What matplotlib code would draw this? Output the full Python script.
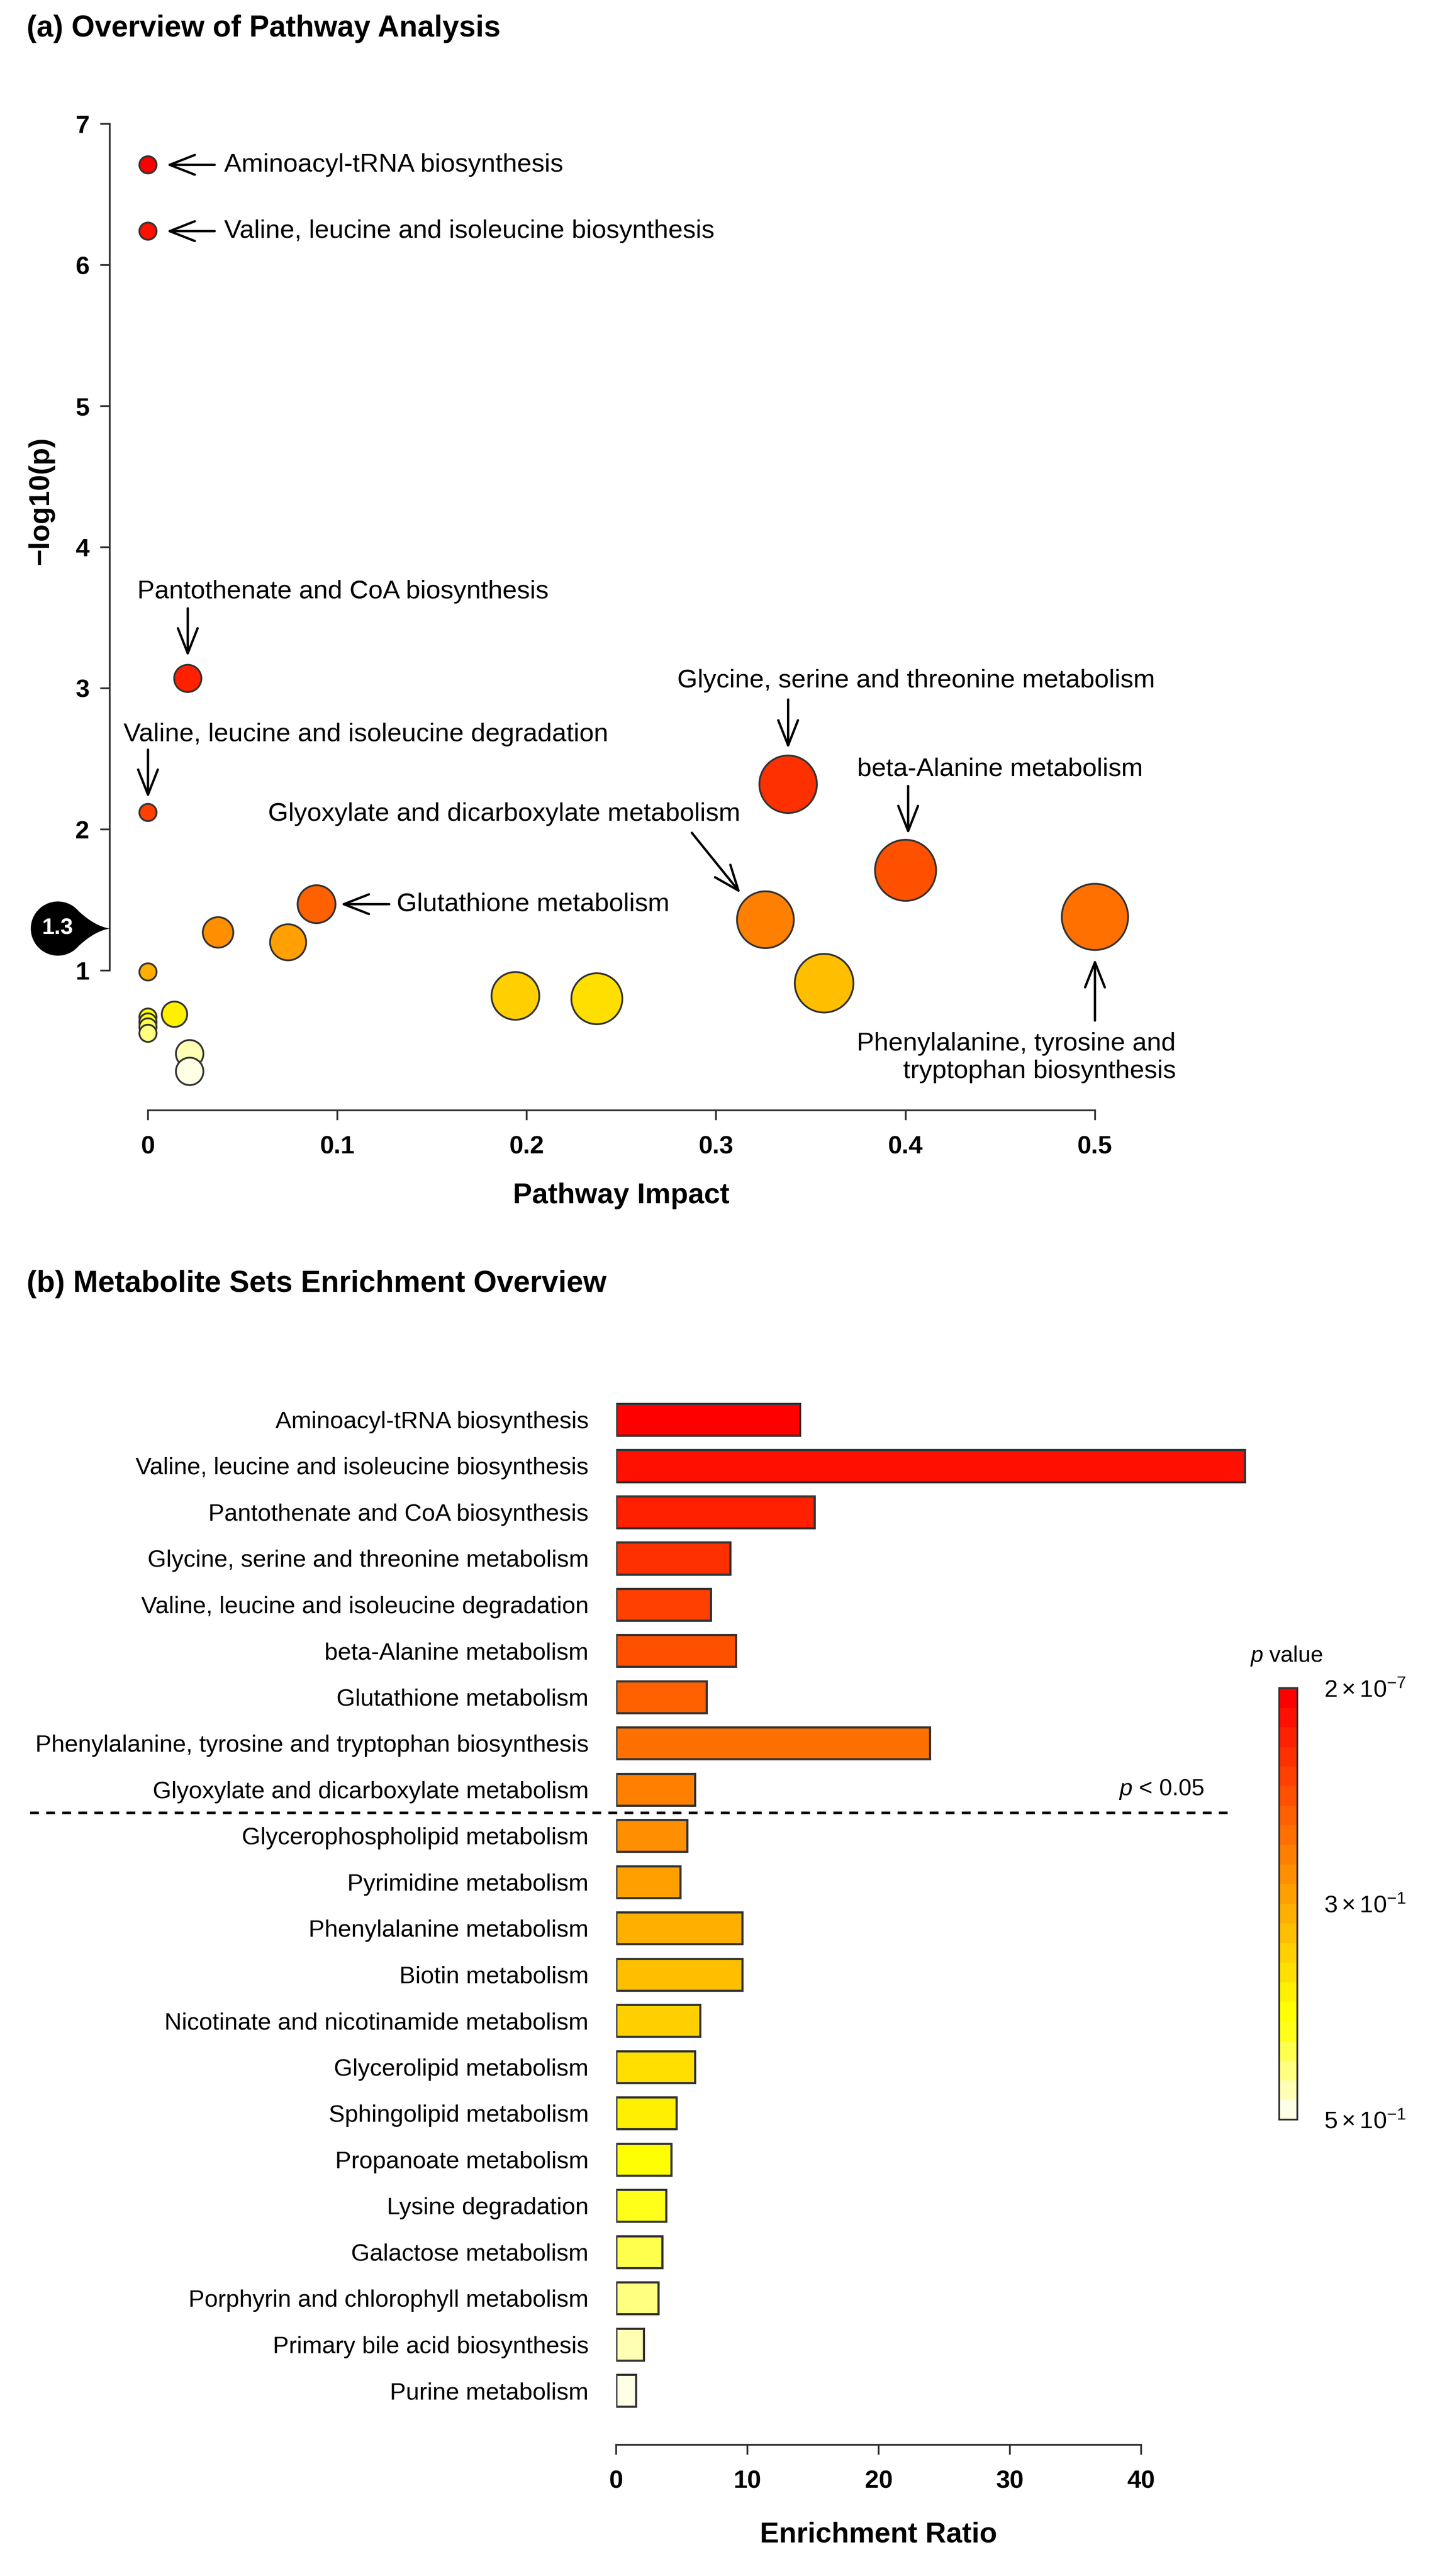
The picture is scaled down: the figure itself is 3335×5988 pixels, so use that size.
import colorsys
import numpy as np
import matplotlib
matplotlib.use("Agg")
import matplotlib.pyplot as plt
from matplotlib.path import Path
from matplotlib.markers import MarkerStyle
from matplotlib.colors import ListedColormap, Normalize
from matplotlib.cm import ScalarMappable
from matplotlib import transforms

plt.rcParams['font.family'] = ['Liberation Sans', 'DejaVu Sans']
plt.rcParams['mathtext.fontset'] = 'custom'
plt.rcParams['mathtext.rm'] = 'Liberation Sans'
plt.rcParams['mathtext.it'] = 'Liberation Sans:italic'

# (a) pathway analysis, ordered by p value (smallest first)
impact = [0.0, 0.0, 0.021, 0.338, 0.0, 0.400, 0.089, 0.500, 0.326, 0.037, 0.074,
          0.0, 0.357, 0.194, 0.237, 0.014, 0.0, 0.0, 0.0, 0.0, 0.022, 0.022]
neg_log_p = [6.71, 6.24, 3.07, 2.32, 2.12, 1.71, 1.47, 1.38, 1.36, 1.27, 1.20,
             0.99, 0.91, 0.82, 0.80, 0.69, 0.67, 0.635, 0.60, 0.555, 0.41, 0.285]
point_labels = {
    0: "Aminoacyl-tRNA biosynthesis",
    1: "Valine, leucine and isoleucine biosynthesis",
    2: "Pantothenate and CoA biosynthesis",
    3: "Glycine, serine and threonine metabolism",
    4: "Valine, leucine and isoleucine degradation",
    5: "beta-Alanine metabolism",
    6: "Glutathione metabolism",
    7: "Phenylalanine, tyrosine and\ntryptophan biosynthesis",
    8: "Glyoxylate and dicarboxylate metabolism",
}

# (b) enrichment overview, same order
metabolite_sets = [
    "Aminoacyl-tRNA biosynthesis",
    "Valine, leucine and isoleucine biosynthesis",
    "Pantothenate and CoA biosynthesis",
    "Glycine, serine and threonine metabolism",
    "Valine, leucine and isoleucine degradation",
    "beta-Alanine metabolism",
    "Glutathione metabolism",
    "Phenylalanine, tyrosine and tryptophan biosynthesis",
    "Glyoxylate and dicarboxylate metabolism",
    "Glycerophospholipid metabolism",
    "Pyrimidine metabolism",
    "Phenylalanine metabolism",
    "Biotin metabolism",
    "Nicotinate and nicotinamide metabolism",
    "Glycerolipid metabolism",
    "Sphingolipid metabolism",
    "Propanoate metabolism",
    "Lysine degradation",
    "Galactose metabolism",
    "Porphyrin and chlorophyll metabolism",
    "Primary bile acid biosynthesis",
    "Purine metabolism",
]
enrichment_ratio = [14.0, 47.9, 15.1, 8.7, 7.2, 9.1, 6.9, 23.9, 6.0, 5.4, 4.9,
                    9.6, 9.6, 6.4, 6.0, 4.6, 4.2, 3.8, 3.5, 3.2, 2.1, 1.5]
n_significant = 9
cbar_labels = [r'$5\times10^{-1}$', r'$3\times10^{-1}$', r'$2\times10^{-7}$']


def heat_colors(n):
    # same as R's heat.colors(n)
    j = n // 4
    i = n - j
    cols = [colorsys.hsv_to_rgb(h, 1, 1) for h in np.linspace(0, 1 / 6, i)]
    if j > 0:
        cols += [colorsys.hsv_to_rgb(1 / 6, s, 1)
                 for s in np.linspace(1 - 1 / (2 * j), 1 / (2 * j), j)]
    return cols


W, H, DPI = 3336, 5988, 300
PT = 72 / DPI  # points per pixel
fig = plt.figure(figsize=(W / DPI, H / DPI), dpi=DPI)
heat = heat_colors(len(neg_log_p))
edge = '#333333'

# ---------------- panel a ----------------
axa = fig.add_axes([255 / W, 1 - 2581 / H, (2800 - 255) / W, (2581 - 250) / H])
radius_px = 20 + 80.6 * np.sqrt(np.array(impact))
axa.scatter(impact, neg_log_p, s=(2 * radius_px * PT) ** 2, c=heat,
            edgecolors=edge, linewidths=1.0, zorder=3, clip_on=False)
axa.set_xlim(-0.0202, 0.558)
axa.set_ylim(0.009, 7.116)

for s in ['top', 'right']:
    axa.spines[s].set_visible(False)
for s in ['left', 'bottom']:
    axa.spines[s].set_color(edge)
    axa.spines[s].set_linewidth(1.0)
axa.spines['left'].set_bounds(1, 7)
axa.spines['bottom'].set_bounds(0, 0.5)
axa.set_xticks(np.arange(0, 0.51, 0.1), ['0', '0.1', '0.2', '0.3', '0.4', '0.5'])
axa.set_yticks(range(1, 8))
axa.tick_params(axis='x', length=5.5, width=1.0, color=edge, pad=8.6, labelsize=14)
axa.tick_params(axis='y', length=5.3, width=1.0, color=edge, pad=6, labelsize=14)
for lab in axa.get_xticklabels() + axa.get_yticklabels():
    lab.set_fontweight('bold')
axa.set_xlabel('Pathway Impact', fontsize=16, fontweight='bold', va='center')
axa.xaxis.set_label_coords((1444 - 255) / 2545, -199 / 2331)
axa.set_ylabel('\u2212log10(p)', fontsize=16, fontweight='bold', va='center')
axa.yaxis.set_label_coords(-160 / 2545, (2581 - 1164) / 2331)

# annotations: tip offset, tail offset, text offset (pixels), alignment
ann = {
    0: ((43, 0), (155, 0), (177, 0), 'left'),
    1: ((43, 0), (155, 0), (177, 0), 'left'),
    2: ((0, 51), (0, 163), (-117, 202), 'left'),
    3: ((0, 83), (0, 197), (-258, 241), 'left'),
    4: ((0, 34), (0, 146), (-57, 181), 'left'),
    5: ((6, 84), (6, 196), (-113, 235), 'left'),
    6: ((56, 0), (169, 0), (186, 0), 'left'),
    7: ((0, -98), (0, -241), (188, -327), 'right'),
    8: ((-58, 62), (-171, 202), (-58, 245), 'right'),
}
for i, label in point_labels.items():
    tip, tail, toff, ha = ann[i]
    x, y = impact[i], neg_log_p[i]
    axa.annotate('', xy=(x, y),
                 xycoords=transforms.offset_copy(axa.transData, fig=fig, x=tip[0] * PT,
                                                 y=tip[1] * PT, units='points'),
                 xytext=(x, y),
                 textcoords=transforms.offset_copy(axa.transData, fig=fig, x=tail[0] * PT,
                                                   y=tail[1] * PT, units='points'),
                 arrowprops=dict(arrowstyle='->,head_length=1.4,head_width=0.55',
                                 mutation_scale=10, lw=1.3, color='black',
                                 shrinkA=0, shrinkB=0))
    axa.annotate(label, xy=(x, y), xytext=(toff[0] * PT, toff[1] * PT),
                 textcoords='offset points', ha=ha, va='center', fontsize=14.5,
                 multialignment=ha)

# black "1.3" tear-drop on the y axis
ctr = -1.92
arc = Path.arc(40, 320)
verts = list(arc.vertices + [ctr, 0]) + [(-0.55, -0.08), (0, 0), (-0.55, 0.08),
                                         tuple(arc.vertices[0] + [ctr, 0]), (0, 0)]
codes = list(arc.codes) + [Path.CURVE3, Path.CURVE3, Path.CURVE3, Path.CURVE3,
                           Path.CLOSEPOLY]
drop = Path(np.array(verts), codes)
rescale = np.abs(drop.vertices).max()
r_pt = 63 * PT
blend = transforms.blended_transform_factory(axa.transAxes, axa.transData)
axa.plot([0], [1.3], transform=blend, marker=MarkerStyle(drop), ms=2 * rescale * r_pt,
         color='black', mew=0, clip_on=False, zorder=5)
axa.annotate('1.3', xy=(0, 1.3), xycoords=blend, xytext=(ctr * r_pt, 0),
             textcoords='offset points', ha='center', va='center', color='white',
             fontsize=12.5, fontweight='bold', zorder=6)

# ---------------- panel b ----------------
axb = fig.add_axes([1432 / W, 1 - 5683 / H, (2950 - 1432) / W, (5683 - 3200) / H])
ypos = np.arange(len(metabolite_sets))
axb.barh(ypos, enrichment_ratio, height=0.69, color=heat, edgecolor=edge, linewidth=1.2)
axb.set_yticks(ypos, metabolite_sets)
axb.tick_params(axis='y', length=0, pad=64 * PT, labelsize=13.4)
axb.set_xticks(range(0, 41, 10))
axb.tick_params(axis='x', length=5.5, width=1.0, color=edge, pad=8.6, labelsize=14)
for lab in axb.get_xticklabels():
    lab.set_fontweight('bold')
for s in ['top', 'right', 'left']:
    axb.spines[s].set_visible(False)
axb.spines['bottom'].set_color(edge)
axb.spines['bottom'].set_linewidth(1.0)
axb.spines['bottom'].set_bounds(0, 40)
axb.set_xlabel('Enrichment Ratio', fontsize=16, fontweight='bold', va='center')
axb.xaxis.set_label_coords((2042 - 1432) / (2950 - 1432), -209 / 2483)

# p < 0.05 cut line
cut = n_significant - 0.5
blend_b = transforms.blended_transform_factory(fig.transFigure, axb.transData)
axb.plot([70 / W, 2868 / W], [cut, cut], transform=blend_b, color='black', lw=1.4,
         ls=(0, (3.5, 2.9)), clip_on=False)
axb.text(2798 / W, n_significant - 1, r'$p$ < 0.05', transform=blend_b, ha='right',
         va='center', fontsize=13)
axb.set_xlim(0, 49.77)
axb.set_ylim(22.17, -0.93)

# colour key
cax = fig.add_axes([2973 / W, 1 - 4927 / H, 42 / W, (4927 - 3924) / H])
cb = fig.colorbar(ScalarMappable(norm=Normalize(0, 1), cmap=ListedColormap(heat[::-1])),
                  cax=cax, ticks=[0, 0.5, 1])
cb.set_ticklabels(cbar_labels)
cax.tick_params(length=0, pad=15, labelsize=13.5)
cb.outline.set_edgecolor(edge)
cb.outline.set_linewidth(1.0)
fig.text(2990 / W, 1 - 3850 / H, r'$p$ value', ha='center', va='center', fontsize=12.5)

# titles
fig.text(62 / W, 1 - 67 / H, '(a) Overview of Pathway Analysis', fontsize=16.7,
         fontweight='bold', va='center')
fig.text(62 / W, 1 - 2985 / H, '(b) Metabolite Sets Enrichment Overview', fontsize=16.7,
         fontweight='bold', va='center')

fig.savefig('out.png', dpi=DPI)
